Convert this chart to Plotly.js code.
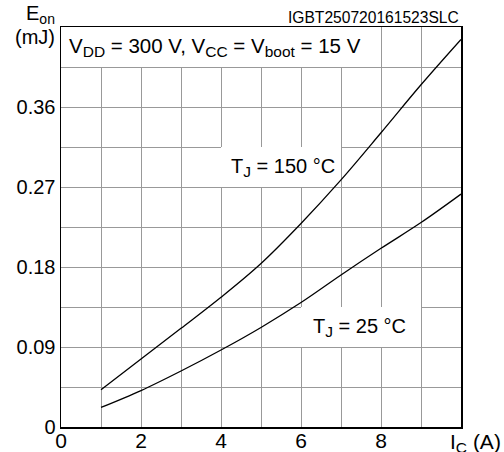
<!DOCTYPE html>
<html>
<head>
<meta charset="utf-8">
<script src="https://cdn.plot.ly/plotly-3.0.1.min.js"></script>
<style>html,body{margin:0;padding:0;background:#fff;}#chart{width:504px;height:452px;}</style>
</head>
<body>
<div id="chart"></div>
<script>
const ic = [1, 2, 3, 4, 5, 6, 7, 8, 9, 10];
const eon150 = [0.042, 0.0765, 0.111, 0.146, 0.184, 0.229, 0.278, 0.331, 0.385, 0.436];
const eon25 = [0.022, 0.041, 0.063, 0.0866, 0.112, 0.140, 0.171, 0.201, 0.230, 0.262];
const xTickVals = [0, 1, 2, 3, 4, 5, 6, 7, 8, 9, 10];
const xTickText = ['0', '', '2', '', '4', '', '6', '', '8', '', ''];
const yTickVals = [0, 0.045, 0.09, 0.135, 0.18, 0.225, 0.27, 0.315, 0.36, 0.405, 0.45];
const yTickText = ['0', '', '0.09', '', '0.18', '', '0.27', '', '0.36', '', ''];
const sub = s => '<sub><span style="font-size:15.5px">' + s + '</span></sub>';
const labels = {
  cond: 'V' + sub('DD') + ' = 300 V, V' + sub('CC') + ' = V' + sub('boot') + ' = 15 V',
  t150: 'T' + sub('J') + ' = 150 °C',
  t25: 'T' + sub('J') + ' = 25 °C',
  code: 'IGBT250720161523SLC',
  yunit1: 'E<sub>on</sub>',
  yunit2: '(mJ)',
  xunit: 'I' + sub('C') + ' (A)'
};

const F = 'Liberation Sans, Arial, sans-serif';
const lineStyle = {color: '#000', width: 1.3, shape: 'spline', smoothing: 1};
const traces = [
  {x: ic, y: eon150, mode: 'lines', line: lineStyle, hoverinfo: 'skip'},
  {x: ic, y: eon25, mode: 'lines', line: lineStyle, hoverinfo: 'skip'}
];

function box(x0, x1, y0, y1) {
  return {type: 'rect', xref: 'x', yref: 'y', x0: x0, x1: x1, y0: y0, y1: y1,
          fillcolor: '#fff', line: {width: 0}, layer: 'between'};
}

const layout = {
  width: 504, height: 452,
  margin: {l: 61, r: 43, t: 27, b: 25, pad: 0},
  paper_bgcolor: '#fff', plot_bgcolor: '#fff',
  showlegend: false,
  font: {family: F, size: 20, color: '#000'},
  xaxis: {
    range: [0, 10], tickmode: 'array', tickvals: xTickVals, ticktext: xTickText,
    showgrid: true, gridcolor: '#999', gridwidth: 1, zeroline: false,
    showline: true, linecolor: '#000', linewidth: 1.5, mirror: true,
    ticks: '', ticklabelstandoff: -6,
    tickfont: {family: F, size: 21, color: '#000'}, fixedrange: true
  },
  yaxis: {
    range: [0, 0.45], tickmode: 'array', tickvals: yTickVals, ticktext: yTickText,
    showgrid: true, gridcolor: '#999', gridwidth: 1, zeroline: false,
    showline: true, linecolor: '#000', linewidth: 1.5, mirror: true,
    ticks: '', tickfont: {family: F, size: 20, color: '#000'}, fixedrange: true
  },
  shapes: [
    box(0, 8, 0.405, 0.45),
    box(4, 7, 0.27, 0.315),
    box(6, 9, 0.09, 0.135)
  ],
  annotations: [
    {text: labels.cond, xref: 'paper', yref: 'y', x: 0, y: 0.4275, xanchor: 'left', yanchor: 'middle', xshift: 6, showarrow: false, font: {family: F, size: 20.5}},
    {text: labels.t150, xref: 'x', yref: 'y', x: 5.55, y: 0.2925, xanchor: 'center', yanchor: 'middle', showarrow: false, font: {family: F, size: 20}},
    {text: labels.t25, xref: 'x', yref: 'y', x: 7.45, y: 0.1125, xanchor: 'center', yanchor: 'middle', showarrow: false, font: {family: F, size: 20}},
    {text: labels.code, xref: 'paper', yref: 'paper', x: 1, y: 1, xanchor: 'right', yanchor: 'bottom', yshift: -1, showarrow: false, font: {family: F, size: 15.6}},
    {text: labels.yunit1, xref: 'paper', yref: 'paper', x: 0, y: 1, xanchor: 'right', yanchor: 'middle', xshift: -4, yshift: 13, showarrow: false, font: {family: F, size: 20}},
    {text: labels.yunit2, xref: 'paper', yref: 'paper', x: 0, y: 1, xanchor: 'right', yanchor: 'middle', xshift: -4, yshift: -10, showarrow: false, font: {family: F, size: 20}},
    {text: labels.xunit, xref: 'paper', yref: 'paper', x: 1, y: 0, xanchor: 'left', yanchor: 'top', xshift: -13, yshift: -1, showarrow: false, font: {family: F, size: 21}}
  ]
};

Plotly.newPlot('chart', traces, layout, {staticPlot: true, displayModeBar: false});
</script>
</body>
</html>
